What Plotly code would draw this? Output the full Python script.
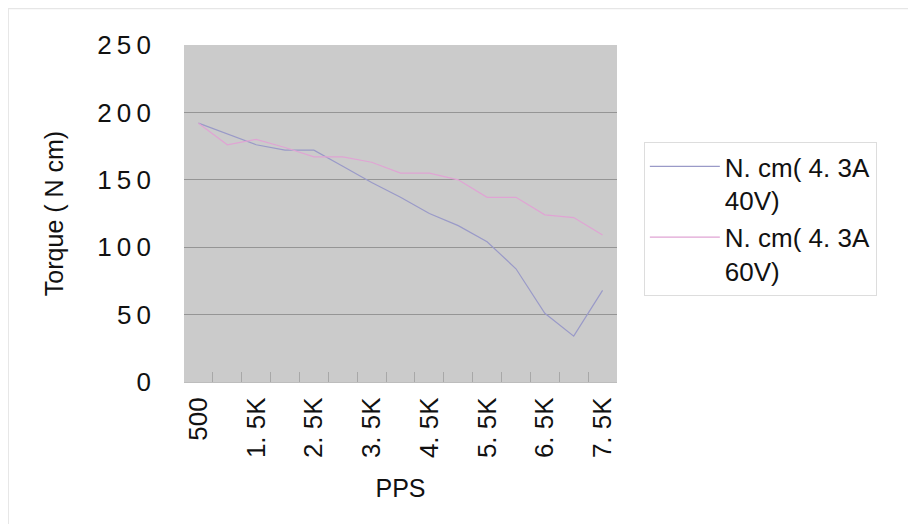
import plotly.graph_objects as go

pps = ["500", "1K", "1.5K", "2K", "2.5K", "3K", "3.5K", "4K", "4.5K",
       "5K", "5.5K", "6K", "6.5K", "7K", "7.5K"]
tick_labels = ["500", "", "1. 5K", "", "2. 5K", "", "3. 5K", "", "4. 5K",
               "", "5. 5K", "", "6. 5K", "", "7. 5K"]
torque_40v = [192, 184, 176, 172, 172, 160, 148, 137, 125, 116, 104, 84, 51, 34, 68]
torque_60v = [192, 176, 180, 174, 167, 167, 163, 155, 155, 150, 137, 137, 124, 122, 109]
y_ticks = [0, 50, 100, 150, 200, 250]
y_tick_text = ["0", "5\u20090", "1\u20090\u20090", "1\u20095\u20090", "2\u20090\u20090", "2\u20095\u20090"]
name_40v = "N. cm( 4. 3A<br>40V)"
name_60v = "N. cm( 4. 3A<br>60V)"

FONT = "Liberation Sans, Arial, sans-serif"

fig = go.Figure()
fig.add_trace(go.Scatter(x=pps, y=torque_40v, mode="lines", name=name_40v,
                         line=dict(color="#9a9ac8", width=1.2)))
fig.add_trace(go.Scatter(x=pps, y=torque_60v, mode="lines", name=name_60v,
                         line=dict(color="#e0a4d4", width=1.2)))

fig.update_layout(
    width=908, height=516,
    margin=dict(l=176, r=299, t=37, b=142),
    paper_bgcolor="white",
    plot_bgcolor="#cbcbcb",
    font=dict(family=FONT, size=25, color="#111111"),
    showlegend=True,
    legend=dict(x=1.062, y=0.712, xanchor="left", yanchor="top",
                bordercolor="#dddddd", borderwidth=1, bgcolor="white",
                font=dict(size=26), tracegroupgap=0, itemwidth=70, valign="top"),
    xaxis=dict(
        type="category", tickmode="array", tickvals=pps, ticktext=tick_labels,
        tickangle=-90, tickson="boundaries", ticks="inside", ticklen=10,
        tickcolor="#a8a8a8", showgrid=False, showline=True, linecolor="#bdbdbd",
        range=[-0.5, len(pps) - 0.5], ticklabelstandoff=4,
        title=dict(text="PPS", standoff=22, font=dict(size=25)),
        tickfont=dict(size=26),
    ),
    yaxis=dict(
        range=[0, 250], tickmode="array", tickvals=y_ticks, ticktext=y_tick_text,
        showgrid=True, gridcolor="#959595", gridwidth=1, zeroline=False,
        showline=False, ticks="", ticklabelstandoff=32,
        title=dict(text="Torque ( N cm)", standoff=26, font=dict(size=25)),
        tickfont=dict(size=26),
    ),
    shapes=[dict(type="rect", xref="paper", yref="paper", x0=-0.406, x1=1.8,
                 y0=-0.45, y1=1.108, line=dict(color="#e6e6e6", width=1.5),
                 fillcolor="rgba(0,0,0,0)", layer="below")],
)

fig.write_html("out.html")
